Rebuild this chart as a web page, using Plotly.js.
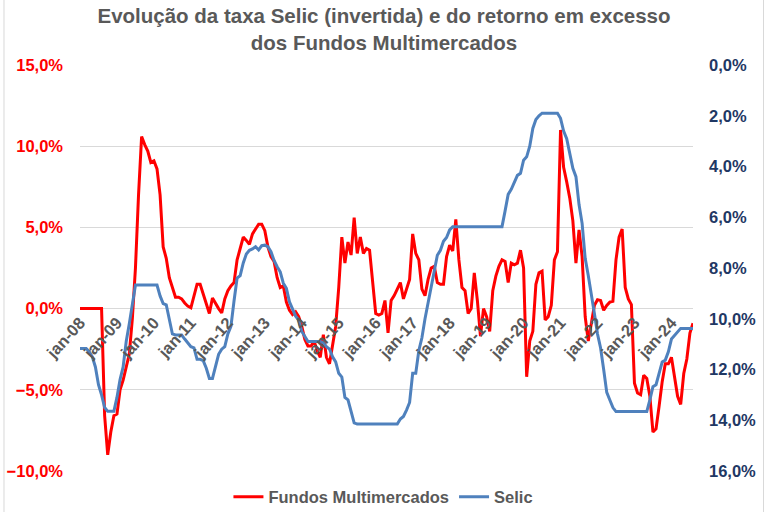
<!DOCTYPE html>
<html>
<head>
<meta charset="utf-8">
<script src="https://cdn.plot.ly/plotly-3.0.1.min.js"></script>
<style>
html,body{margin:0;padding:0;background:#fff;}
#chart{width:768px;height:512px;}
</style>
</head>
<body>
<div id="chart"></div>
<script>
// Tick labels (January of each year), month index from jan-08
const tickLabels = ['jan-08','jan-09','jan-10','jan-11','jan-12','jan-13','jan-14','jan-15','jan-16','jan-17','jan-18','jan-19','jan-20','jan-21','jan-22','jan-23','jan-24'];
const tickMonths = [0,12,24,36,48,60,72,84,96,108,120,132,144,156,168,180,192];

// Excess return of Multimercado funds (%), monthly jan-08 .. aug-24
const fundos = [
  0,0,0,0,0,0,0,0,-6.6,-9.0,-7.6,-6.6,
  -6.5,-5.0,-4.4,-3.6,-2.8,-0.6,2.5,7.0,10.6,10.1,9.7,9.0,
  9.1,8.6,7.0,3.8,3.1,1.9,1.3,0.7,0.7,0.6,0.35,0.15,
  0.05,0.8,1.5,1.5,0.9,0.2,-0.3,0.65,0.3,0.0,-0.27,0.6,
  1.1,1.4,1.6,3.0,3.7,4.4,4.2,3.95,4.6,4.9,5.2,5.2,
  4.8,3.8,3.2,2.9,1.9,1.3,1.4,0.4,-0.1,-0.37,-0.2,-0.5,
  -1.1,-1.9,-2.3,-2.3,-2.0,-2.6,-3.0,-1.6,-3.0,-3.4,-2.1,-1.1,
  1.3,4.4,2.8,4.1,3.3,5.6,3.4,4.4,3.4,3.7,3.6,1.5,
  -0.3,-0.4,-0.3,0.5,-1.5,0.5,0.8,1.2,1.6,0.6,1.2,1.8,
  4.6,3.4,3.0,1.2,0.8,1.8,2.5,2.6,1.6,1.5,1.5,3.2,
  3.9,3.55,5.5,3.0,1.3,1.1,-0.3,0.0,2.2,0.5,-1.7,0.0,
  -0.5,-1.4,1.1,2.0,2.6,3.0,2.9,1.6,2.8,2.7,2.8,3.6,
  2.5,-4.2,-2.0,-1.4,1.5,2.2,2.3,-0.7,-0.5,0.2,3.0,3.5,
  11.0,8.7,7.8,6.8,5.4,2.8,4.85,3.2,-0.5,-2.0,-0.9,0.2,
  0.55,0.5,-0.1,0.2,0.4,0.45,3.0,4.4,4.9,1.3,0.6,0.25,
  -4.6,-5.2,-5.3,-4.1,-4.3,-5.4,-7.6,-7.4,-6.0,-4.5,-3.4,-3.4,
  -3.0,-4.3,-5.4,-5.9,-4.0,-3.1,-1.5,-0.9
];

// Selic (%), monthly jan-08 .. aug-24, shown on inverted right axis
const selic = [
  11.17,11.17,11.17,11.3,11.5,11.9,12.6,13.0,13.5,13.65,13.65,13.65,
  13.1,12.4,11.9,10.9,10.2,9.4,8.67,8.67,8.67,8.67,8.67,8.67,
  8.67,8.67,9.1,9.4,9.45,10.0,10.6,10.64,10.64,10.64,10.8,10.95,
  11.1,11.15,11.6,11.6,11.65,11.95,12.35,12.35,11.85,11.4,11.2,11.1,
  10.6,10.3,9.3,8.4,8.3,7.8,7.45,7.3,7.25,7.16,7.29,7.12,
  7.1,7.16,7.36,7.7,7.95,8.15,8.6,8.8,9.33,9.6,9.9,10.05,
  10.5,10.7,10.9,10.9,10.9,10.9,10.9,10.95,11.1,11.2,11.5,11.7,
  12.15,12.3,13.1,13.2,13.6,14.1,14.15,14.15,14.15,14.15,14.15,14.15,
  14.15,14.15,14.15,14.15,14.15,14.15,14.15,14.15,13.95,13.85,13.6,13.3,
  12.15,12.15,11.25,10.75,10.0,9.4,8.8,8.1,7.5,7.3,6.95,6.8,
  6.5,6.37,6.37,6.37,6.37,6.37,6.37,6.37,6.37,6.37,6.37,6.37,
  6.37,6.37,6.37,6.37,6.37,6.37,5.75,5.1,4.9,4.6,4.35,4.27,
  3.75,3.62,3.2,2.5,2.15,2.0,1.9,1.9,1.9,1.9,1.9,1.9,
  2.1,2.6,2.9,3.5,4.07,4.4,5.5,6.24,7.62,8.3,9.15,9.8,
  10.6,11.15,12.0,12.9,13.2,13.5,13.66,13.66,13.66,13.66,13.66,13.66,
  13.66,13.66,13.66,13.66,13.66,13.2,12.68,12.6,12.2,11.7,11.63,11.3,
  10.8,10.65,10.5,10.38,10.38,10.38,10.38,10.38
];

const idx = fundos.map((_, i) => i);

const fam = 'Liberation Sans, Arial, sans-serif';

const traces = [
  {
    x: idx, y: fundos, name: 'Fundos Multimercados', type: 'scatter', mode: 'lines',
    line: {color: '#ff0000', width: 3}, yaxis: 'y'
  },
  {
    x: selic.map((_, i) => i), y: selic, name: 'Selic', type: 'scatter', mode: 'lines',
    line: {color: '#4f81bd', width: 3}, yaxis: 'y2'
  }
];

const layout = {
  width: 768, height: 512,
  margin: {l: 80, r: 75, t: 65, b: 41, autoexpand: false},
  paper_bgcolor: '#ffffff', plot_bgcolor: '#ffffff',
  separators: ',.',
  font: {family: fam},
  title: {
    text: 'Evolução da taxa Selic (invertida) e do retorno em excesso<br>dos Fundos Multimercados',
    font: {family: fam, weight: 'bold', size: 20.5, color: '#595959'},
    x: 0.5, xref: 'container', xanchor: 'center',
    y: 0.955, yref: 'container', yanchor: 'top'
  },
  xaxis: {
    range: [0, 199], tickvals: tickMonths, ticktext: tickLabels,
    tickangle: -48, anchor: 'free', position: 0.399,
    showgrid: false, zeroline: false, showline: false, ticks: '',
    tickfont: {family: fam, weight: 'bold', size: 16.5, color: '#595959'},
    fixedrange: true
  },
  yaxis: {
    range: [-10, 15], dtick: 5, tickformat: '.1f', ticksuffix: '%',
    showgrid: true, gridcolor: '#d9d9d9', gridwidth: 1, zeroline: false, showline: false,
    ticks: '', ticklabelstandoff: 16,
    tickfont: {family: fam, weight: 'bold', size: 16.5, color: '#ff0000'}
  },
  yaxis2: {
    range: [16, 0], dtick: 2, tickformat: '.1f', ticksuffix: '%',
    overlaying: 'y', side: 'right', showgrid: false, zeroline: false, showline: false,
    ticks: '', ticklabelstandoff: 15,
    tickfont: {family: fam, weight: 'bold', size: 16.5, color: '#1f3864'}
  },
  legend: {
    orientation: 'h', x: 0.495, xanchor: 'center', y: -0.064, yanchor: 'middle',
    font: {family: fam, weight: 'bold', size: 16.5, color: '#595959'},
    bgcolor: 'rgba(0,0,0,0)'
  },
  shapes: [
    {type: 'line', xref: 'paper', yref: 'paper', x0: -0.124, x1: -0.124, y0: -0.2, y1: 1.2,
     line: {color: '#d9d9d9', width: 1}},
    {type: 'line', xref: 'paper', yref: 'paper', x0: 1.115, x1: 1.115, y0: -0.2, y1: 1.2,
     line: {color: '#d9d9d9', width: 1}}
  ],
  showlegend: true
};

Plotly.newPlot('chart', traces, layout, {displayModeBar: false, staticPlot: true});
</script>
</body>
</html>
